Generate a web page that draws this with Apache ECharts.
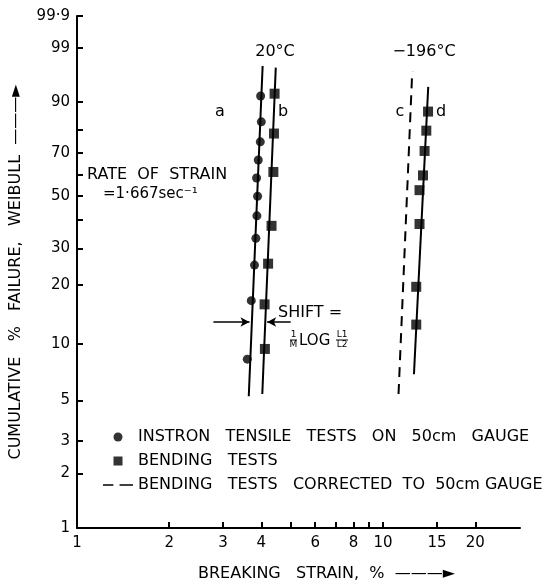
<!DOCTYPE html>
<html>
<head>
<meta charset="UTF-8">
<title>Weibull plot of breaking strain</title>
<script src="https://cdn.jsdelivr.net/npm/echarts@6/dist/echarts.min.js"></script>
</head>
<body style="margin:0;background:#fff">
<div id="container" style="width:547px;height:587px"></div>
<script>
// values: breaking strain (%) and cumulative failure (%)
var aStrain = [3.60, 3.71, 3.80, 3.84, 3.87, 3.89, 3.86, 3.91, 3.97, 4.00, 3.98];
var aFail = [8.3, 16.7, 25, 33.3, 41.7, 50, 58.3, 66.7, 75, 83.3, 91.7];
var bStrain = [4.11, 4.10, 4.21, 4.32, 4.38, 4.40, 4.42];
var bFail = [9.4, 16, 25.4, 37.8, 61.1, 78.6, 92.3];
var dStrain = [12.83, 12.83, 13.15, 13.15, 13.50, 13.66, 13.84, 14.02];
var dFail = [12.6, 19.6, 38.5, 52.7, 59.5, 70.9, 79.8, 87.0];
// fitted lines, two ends each
var lineAStrain = [3.64, 4.04], lineAFail = [5.25, 97.4];
var lineBStrain = [4.03, 4.46], lineBFail = [5.4, 97.2];
var lineCStrain = [11.23, 12.45], lineCFail = [5.4, 96.7];
var lineDStrain = [12.61, 14.04], lineDFail = [6.9, 93.9];
// shift arrows (strain, failure level)
var shiftLeft = [2.79, 3.66], shiftRight = [4.99, 4.18], shiftFail = 13;
// axis ticks
var yTicks = [1, 2, 3, 5, 10, 20, 30, 40, 50, 60, 70, 80, 90, 99, 99.9];
var yTickLabels = [1, 2, 3, 5, 10, 20, 30, 50, 70, 90, 99, 99.9];
var xTicks = [2, 3, 4, 5, 6, 7, 8, 9, 10, 15, 20];
var xTickLabels = [1, 2, 3, 4, 6, 8, 10, 15, 20];

var FONT = '"DejaVu Sans", sans-serif';
var ink = '#000';

function weib(p) { return Math.log(-Math.log(1 - p / 100)); }
function pts(xs, ps) { return xs.map(function (x, i) { return [x, weib(ps[i])]; }); }
function fitLine(xs, ps, dashed, name) {
  return {
    name: name || '',
    type: 'line',
    data: pts(xs, ps),
    symbol: 'none',
    silent: true,
    lineStyle: { color: ink, width: 2, type: dashed ? [10, 7] : 'solid' },
    itemStyle: { color: ink }
  };
}
function txt(x, y, s, size, align) {
  return {
    type: 'text', x: x, y: y, silent: true,
    style: { text: s, font: size + 'px ' + FONT, fill: ink, align: align || 'left', verticalAlign: 'middle' }
  };
}

var chart = echarts.init(document.getElementById('container'), null, { renderer: 'canvas' });

var legA = 'INSTRON   TENSILE   TESTS   ON   50cm   GAUGE';
var legB = 'BENDING   TESTS';
var legC = 'BENDING   TESTS   CORRECTED  TO  50cm GAUGE';

var option = {
  animation: false,
  backgroundColor: '#fff',
  grid: { left: 76, right: 27, top: 16, bottom: 50 },
  legend: {
    orient: 'vertical', left: 98, top: 424,
    itemWidth: 30, itemHeight: 9, itemGap: 8,
    selectedMode: false,
    textStyle: { fontSize: 16, color: ink, fontFamily: FONT },
    data: [
      { name: legA, icon: 'path://M5,0A5,5,0,1,1,5,10A5,5,0,1,1,5,0z' },
      { name: legB, icon: 'path://M0,0h10v10h-10z' },
      { name: legC, icon: 'path://M0,0h10v1.6h-10z M16,0h13v1.6h-13z' }
    ]
  },
  xAxis: {
    type: 'log', logBase: 10, min: 1, max: 28,
    name: 'BREAKING   STRAIN,  %  \u2014\u2014\u2014\u25BA',
    nameLocation: 'middle', nameGap: 38,
    nameTextStyle: { fontSize: 16, color: ink, fontFamily: FONT, padding: [0, 0, 0, 56] },
    axisLine: { onZero: false, lineStyle: { color: ink, width: 2 } },
    axisTick: { inside: true, length: 6, customValues: xTicks, lineStyle: { color: ink, width: 2 } },
    axisLabel: { customValues: xTickLabels, fontSize: 15, color: ink, fontFamily: FONT, margin: 8 },
    splitLine: { show: false },
    minorTick: { show: false }
  },
  yAxis: {
    type: 'value', min: weib(1), max: weib(99.9),
    name: 'CUMULATIVE   %   FAILURE,   WEIBULL  \u2014\u2014\u2014\u25BA',
    nameLocation: 'middle', nameGap: 53, nameRotate: 90,
    nameTextStyle: { fontSize: 16, color: ink, fontFamily: FONT },
    axisLine: { show: true, onZero: false, lineStyle: { color: ink, width: 2 } },
    axisTick: { show: true, inside: true, length: 6, customValues: yTicks.map(weib), lineStyle: { color: ink, width: 2 } },
    axisLabel: {
      customValues: yTickLabels.map(weib), fontSize: 15, color: ink, fontFamily: FONT, margin: 7,
      formatter: function (v) {
        var best = yTickLabels[0];
        yTickLabels.forEach(function (l) { if (Math.abs(weib(l) - v) < Math.abs(weib(best) - v)) best = l; });
        return String(best).replace('.', '\u00B7');
      }
    },
    splitLine: { show: false }
  },
  series: [
    fitLine(lineAStrain, lineAFail, false),
    fitLine(lineBStrain, lineBFail, false),
    fitLine(lineDStrain, lineDFail, false),
    fitLine(lineCStrain, lineCFail, true, legC),
    {
      name: legA, type: 'scatter', symbol: 'circle', symbolSize: 9,
      itemStyle: { color: ink }, data: pts(aStrain, aFail),
      markLine: {
        silent: true, symbol: ['none', 'arrow'], symbolSize: [7, 9],
        label: { show: false },
        lineStyle: { color: ink, width: 1.5, type: 'solid' },
        data: [
          [{ coord: [shiftLeft[0], weib(shiftFail)] }, { coord: [shiftLeft[1], weib(shiftFail)] }],
          [{ coord: [shiftRight[0], weib(shiftFail)] }, { coord: [shiftRight[1], weib(shiftFail)] }]
        ]
      }
    },
    { name: legB, type: 'scatter', symbol: 'rect', symbolSize: 10, itemStyle: { color: ink }, data: pts(bStrain, bFail) },
    { name: legB, type: 'scatter', symbol: 'rect', symbolSize: 10, itemStyle: { color: ink }, data: pts(dStrain, dFail) }
  ],
  graphic: [
    txt(275, 52, '20\u00B0C', 16, 'center'),
    txt(424, 52, '\u2212196\u00B0C', 16, 'center'),
    txt(220, 112, 'a', 16, 'center'),
    txt(283, 112, 'b', 16, 'center'),
    txt(400, 112, 'c', 16, 'center'),
    txt(441, 112, 'd', 16, 'center'),
    txt(87, 175, 'RATE  OF  STRAIN', 16),
    txt(103, 194, '=1\u00B7667sec\u207B\u00B9', 15),
    txt(278, 313, 'SHIFT =', 16),
    txt(293.5, 335, '1', 9, 'center'),
    { type: 'line', silent: true, shape: { x1: 290, y1: 340, x2: 297, y2: 340 }, style: { stroke: ink, lineWidth: 1 } },
    txt(293.5, 345, 'M', 9, 'center'),
    txt(299, 341, 'LOG', 15),
    txt(342, 335, 'L1', 9, 'center'),
    { type: 'line', silent: true, shape: { x1: 336, y1: 340, x2: 348, y2: 340 }, style: { stroke: ink, lineWidth: 1 } },
    txt(342, 345, 'L2', 9, 'center')
  ]
};
chart.setOption(option);
</script>
</body>
</html>
